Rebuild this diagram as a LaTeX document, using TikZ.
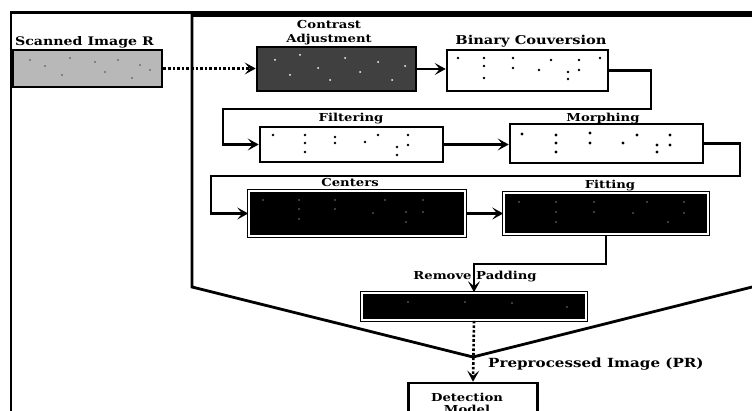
\documentclass[tikz,border=0pt]{standalone}
\usepackage{fontspec}
\newfontfamily\labfont[FakeStretch=1.2]{DejaVu Serif Bold}
\usetikzlibrary{arrows.meta}
\tikzset{
  lab/.style={font=\labfont\fontsize{11}{12}\selectfont, inner sep=0pt, anchor=base},
  labwide/.style={font=\labfont\fontsize{11.8}{13}\selectfont, inner sep=0pt, anchor=base},
  bigl/.style={font=\labfont\fontsize{12.6}{14}\selectfont, inner sep=0pt, anchor=base},
  wbox/.style={draw, line width=2.6pt, fill=white, inner sep=0pt},
  bbox/.style={draw, line width=1.6pt, double=white, double distance=1.4pt, fill=black, inner sep=0pt},
  conn/.style={line width=2.6pt, -{Stealth[length=11pt,width=12pt,inset=5pt]}},
  dotconn/.style={line width=2.6pt, dotted, -{Stealth[length=11pt,width=12pt,inset=5pt]}},
  frame/.style={line width=2.8pt},
  bdot/.style={fill=black},
  wdot/.style={fill=white}
}
\begin{document}
\begin{tikzpicture}[x=1pt,y=-1pt]
\useasboundingbox (0,0) rectangle (752,411);
\clip (0,0) rectangle (752,411);
\fill[white] (0,0) rectangle (752,411);
% frames
\draw[frame] (11,420) -- (11,12.5) -- (760,12.5);
\draw[frame] (760,15.5) -- (192,15.5) -- (192,287) -- (473,357) -- (760,285);
% boxes
\node[wbox, fill=black!28, minimum width=149pt, minimum height=37pt] (scan) at (87.5,68.5) {};
\node[wbox, fill=black!75, minimum width=159pt, minimum height=44pt] (contrast) at (336.5,69) {};
\node[wbox, minimum width=161pt, minimum height=41pt] (binary) at (527.5,70.5) {};
\node[wbox, minimum width=183pt, minimum height=35pt] (filter) at (351.5,144.5) {};
\node[wbox, minimum width=193pt, minimum height=39pt] (morph) at (606.5,143.5) {};
\node[bbox, minimum width=216pt, minimum height=45pt] (centers) at (357,213.5) {};
\node[bbox, minimum width=204pt, minimum height=41pt] (fitting) at (606,213.5) {};
\node[bbox, minimum width=224pt, minimum height=27pt] (remove) at (474,306.5) {};
\node[wbox, minimum width=129pt, minimum height=57pt] (detect) at (473,411.5) {};
% labels
\node[labwide] (lscan) at (84.5,46) {Scanned Image R};
\node[lab] (lcon1) at (329,29) {Contrast};
\node[lab] (lcon2) at (329,43) {Adjustment};
\node[lab, font=\labfont\fontsize{12.2}{13}\selectfont] (lbin) at (531,45) {Binary Couversion};
\node[lab] (lfil) at (351,122) {Filtering};
\node[lab] (lmor) at (603,122) {Morphing};
\node[lab] (lcen) at (350,187) {Centers};
\node[lab] (lfit) at (610,189) {Fitting};
\node[lab] (lrem) at (475,280) {Remove Padding};
\node[bigl, anchor=base west] (lpre) at (488,367) {Preprocessed Image (PR)};
\node[lab] (ldet1) at (467,401) {Detection};
\node[lab] (ldet2) at (467,413) {Model};
% dots
\foreach \p in {(458,58),(484,58),(484,66),(484,78),(513,58),(513,68),(539,70),(551,60),(568,72),(568,79),(579,60),(579,70),(600,58)}
  \fill[bdot] \p circle (1.3pt);
\foreach \p in {(273,135),(305,135),(305,143),(305,152),(335,137),(335,143),(365,142),(378,135),(397,147),(397,155),(408,135),(408,145)}
  \fill[bdot] \p circle (1.4pt);
\foreach \p in {(522,134),(556,135),(556,143),(556,152),(590,133),(590,143),(623,143),(637,135),(657,145),(657,152),(670,135),(670,145)}
  \fill[bdot] \p circle (1.7pt);
\foreach \p in {(263,200),(299,200),(299,209),(299,219),(335,200),(335,209),(373,213),(385,200),(406,212),(406,222),(423,200),(423,212)}
  \fill[wdot] \p circle (0.7pt);
\foreach \p in {(519,202),(556,202),(556,212),(556,222),(594,202),(594,212),(633,213),(647,202),(668,222),(684,202),(684,213)}
  \fill[wdot] \p circle (0.7pt);
\foreach \p in {(408,302),(465,302),(512,303),(567,307)}
  \fill[wdot] \p circle (0.7pt);
\foreach \p in {(30,60),(45,66),(62,75),(70,58),(95,62),(105,72),(118,60),(132,78),(140,65),(150,70)}
  \fill[black!70] \p circle (0.9pt);
\foreach \p in {(275,60),(290,75),(300,55),(318,68),(330,80),(345,58),(360,72),(378,62),(392,80),(405,66)}
  \fill[white] \p circle (1pt);
% coordinates
\coordinate (t1) at (651,109);
\coordinate (t2) at (223,109);
\coordinate (t3) at (740,176);
\coordinate (t4) at (211,176);
\coordinate (t5) at (474,264);
% connectors
\draw[dotconn] (scan.east) -- (scan.east -| contrast.west);
\draw[conn] (contrast.east) -- (contrast.east -| binary.west);
\draw[conn] (binary.east) -| (t1) -- (t2) |- (filter.west);
\draw[conn] (filter.east) -- (filter.east -| morph.west);
\draw[conn] (morph.east) -| (t3) -- (t4) |- (centers.west);
\draw[conn] (centers.east) -- (centers.east -| fitting.west);
\draw[conn] (fitting.south) |- (t5) -- (remove.north);
\draw[dotconn] (remove.south) -- (detect.north);
\end{tikzpicture}
\end{document}
